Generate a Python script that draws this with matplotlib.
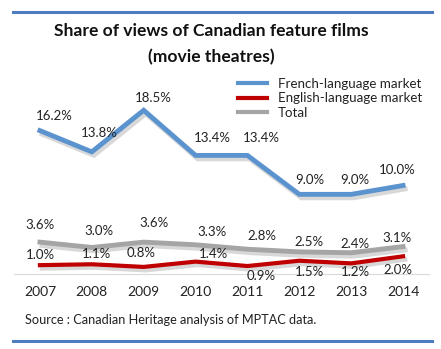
import matplotlib.pyplot as plt
import matplotlib.patheffects as pe
from matplotlib.lines import Line2D

years = ['2007', '2008', '2009', '2010', '2011', '2012', '2013', '2014']
french = [16.2, 13.8, 18.5, 13.4, 13.4, 9.0, 9.0, 10.0]
english = [1.0, 1.1, 0.8, 1.4, 0.9, 1.5, 1.2, 2.0]
total = [3.6, 3.0, 3.6, 3.3, 2.8, 2.5, 2.4, 3.1]

plt.rcParams['font.family'] = ['Lato', 'DejaVu Sans']

fig = plt.figure(figsize=(4.41, 3.49), dpi=100)
W, H = 441, 349
ax = fig.add_axes([14 / W, 75 / H, 415 / W, 177 / H])
ax.set_xlim(-0.5, 7.5)
ax.set_ylim(0, 20)

shadow = [pe.SimpleLineShadow(offset=(1.5, -2.5), shadow_color='gray', alpha=0.3), pe.Normal()]
x = list(range(len(years)))
ax.plot(x, total, color='#A5A5A5', lw=3.5, path_effects=shadow, solid_joinstyle='miter')
ax.plot(x, english, color='#C00000', lw=3.0, path_effects=shadow, solid_joinstyle='miter')
ax.plot(x, french, color='#5B93CF', lw=3.5, path_effects=shadow, solid_joinstyle='miter')

# label offsets in pixels (dx, dy)
fr_off = [(14, 15), (7, 19), (10, 12), (17, 17), (14, 17), (10, 14), (4, 14), (-6, 15)]
en_off = [(0, 10), (5, 10), (-3, 14), (18, 8), (14, -10), (10, -11), (4, -9), (-5, -14)]
to_off = [(0, 17), (7, 16), (10, 19), (16, 13), (14, 13), (10, 10), (4, 9), (-6, 9)]

for series, offs in ((french, fr_off), (total, to_off), (english, en_off)):
    for i, v in enumerate(series):
        ax.annotate('%.1f%%' % v, (i, v), xytext=offs[i], textcoords='offset pixels',
                    ha='center', va='center', fontsize=9.5, color='#222222')

for s in ('top', 'left', 'right'):
    ax.spines[s].set_visible(False)
ax.spines['bottom'].set_color('#D9D9D9')
ax.set_yticks([])
ax.set_xticks(x)
ax.set_xticklabels(years, fontsize=10, color='#222222')
ax.tick_params(axis='x', length=0, pad=9)

handles = [Line2D([], [], color='#5B93CF', lw=3),
           Line2D([], [], color='#C00000', lw=3),
           Line2D([], [], color='#A5A5A5', lw=3)]
fig.legend(handles, ['French-language market', 'English-language market', 'Total'],
           loc='upper left', bbox_to_anchor=(231 / W, 1 - 71 / H), frameon=False,
           fontsize=9.6, handlelength=2.2, handletextpad=0.8, labelspacing=0.2,
           borderpad=0, labelcolor='#222222')

fig.text(211 / W, 1 - 31 / H, 'Share of views of Canadian feature films', ha='center',
         va='center', fontsize=12.6, fontweight='bold', color='#111111')
fig.text(211 / W, 1 - 57 / H, '(movie theatres)', ha='center', va='center',
         fontsize=12.6, fontweight='bold', color='#111111')
fig.text(25 / W, 1 - 320 / H, 'Source : Canadian Heritage analysis of MPTAC data.',
         ha='left', va='center', fontsize=9.2, color='#222222')

fig.add_artist(Line2D([13 / W, 432 / W], [1 - 12 / H, 1 - 12 / H], color='#4F7BC0', lw=2.2))
fig.add_artist(Line2D([13 / W, 432 / W], [1 - 341 / H, 1 - 341 / H], color='#4F7BC0', lw=2.2))

fig.savefig('out.png', dpi=100)
